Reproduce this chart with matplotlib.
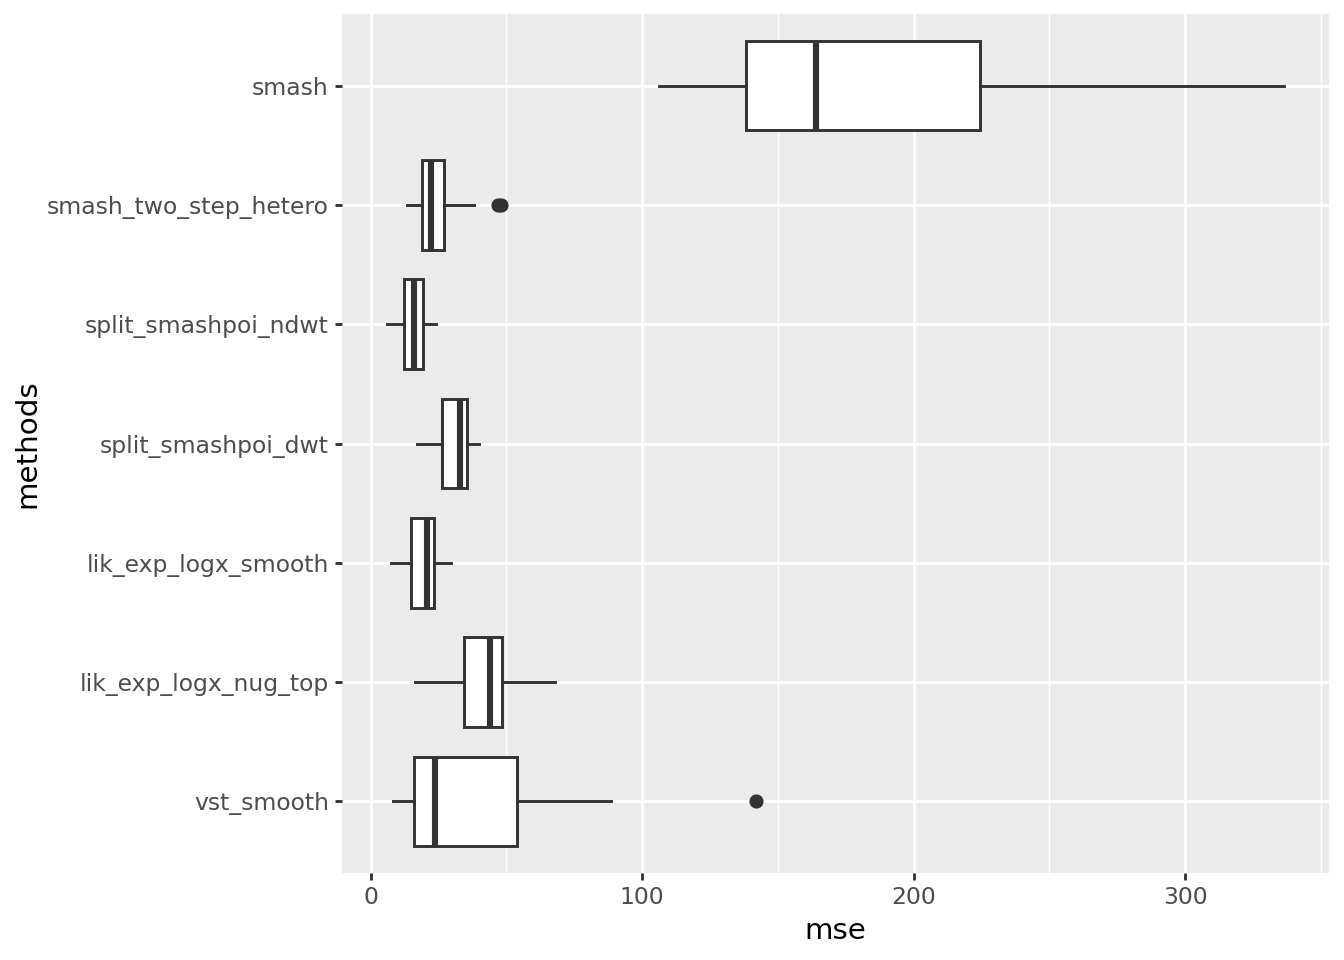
import matplotlib
matplotlib.use("Agg")
import matplotlib.pyplot as plt
from matplotlib.ticker import MultipleLocator

methods = ["vst_smooth", "lik_exp_logx_nug_top", "lik_exp_logx_smooth",
           "split_smashpoi_dwt", "split_smashpoi_ndwt", "smash_two_step_hetero", "smash"]
whislo = [8.4, 16.4, 7.6, 17.1, 6.0, 13.3, 106.3]
q1 = [15.9, 34.3, 14.8, 26.2, 12.2, 19.0, 138.4]
med = [23.7, 43.8, 20.8, 33.1, 16.1, 22.3, 164.2]
q3 = [53.9, 48.5, 23.5, 35.4, 19.2, 26.9, 224.4]
whishi = [88.7, 68.1, 29.5, 40.0, 24.2, 38.0, 336.5]
outliers = [[142.1], [], [], [], [], [46.9, 48.2], []]

plt.rcParams['font.family'] = ['DejaVu Sans']
fig = plt.figure(figsize=(7, 5), dpi=192)
ax = fig.add_axes([0.2545, 0.0906, 0.9888 - 0.2545, 0.9854 - 0.0906])
ax.set_facecolor("#EBEBEB")

stats = []
for i in range(len(methods)):
    stats.append(dict(whislo=whislo[i], q1=q1[i], med=med[i], q3=q3[i],
                      whishi=whishi[i], fliers=outliers[i], label=methods[i]))

dark = "#333333"
ax.bxp(stats, positions=range(1, len(methods) + 1), vert=False, widths=0.75,
       patch_artist=True, showcaps=False, manage_ticks=False,
       boxprops=dict(facecolor="white", edgecolor=dark, linewidth=1.1),
       whiskerprops=dict(color=dark, linewidth=1.1),
       medianprops=dict(color=dark, linewidth=2.3, solid_capstyle="butt"),
       flierprops=dict(marker="o", markerfacecolor=dark, markeredgecolor=dark,
                       markersize=4.3, linestyle="none"),
       zorder=3)

lo = min(whislo)
hi = max(max(whishi), max([max(o) for o in outliers if o]))
pad = (hi - lo) * 0.05
ax.set_xlim(lo - pad, hi + pad)
ax.set_ylim(0.4, len(methods) + 0.6)

ax.set_yticks(range(1, len(methods) + 1))
ax.set_yticklabels(methods)
ax.xaxis.set_major_locator(MultipleLocator(100))
ax.xaxis.set_minor_locator(MultipleLocator(50))

ax.grid(True, which="major", color="white", linewidth=1.07, zorder=0)
ax.grid(True, which="minor", axis="x", color="white", linewidth=0.53, zorder=0)
ax.set_axisbelow(True)
for s in ax.spines.values():
    s.set_visible(False)

ax.tick_params(axis="both", which="major", length=2.75, width=1.07, color=dark,
               labelcolor="#4D4D4D", labelsize=8.8, pad=2.2)
ax.tick_params(axis="x", which="minor", length=0)

ax.set_xlabel("mse", fontsize=11, color="black", labelpad=3)
ax.set_ylabel("methods", fontsize=11, color="black", labelpad=2)

fig.savefig("out.png", dpi=192)
